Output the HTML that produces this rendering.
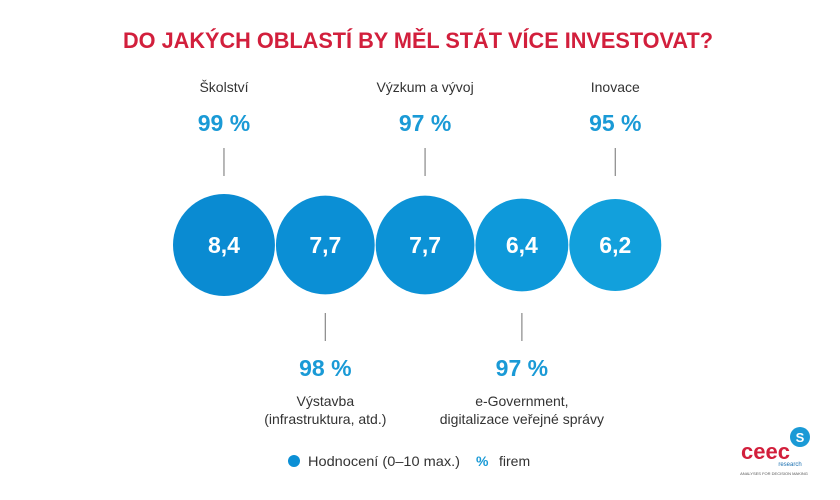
<!DOCTYPE html>
<html><head><meta charset="utf-8"><style>
body{margin:0;width:840px;height:500px;background:#fff;overflow:hidden;font-family:"Liberation Sans",sans-serif;}
svg{display:block}
</style></head><body>
<svg width="840" height="500" viewBox="0 0 840 500">
<text x="418" y="48" text-anchor="middle" font-size="22" font-weight="bold" fill="#d21f3c" textLength="590" lengthAdjust="spacingAndGlyphs">DO JAKÝCH OBLASTÍ BY MĚL STÁT VÍCE INVESTOVAT?</text>
<g id="marks"></g>
<circle cx="294" cy="461" r="6" fill="#0b8fd5"/>
<text x="308" y="466" font-size="14" fill="#333" textLength="152" lengthAdjust="spacingAndGlyphs">Hodnocení (0–10 max.)</text>
<text x="476" y="466" font-size="14" font-weight="bold" fill="#1a9ad6">%</text>
<text x="499" y="466" font-size="14" fill="#333">firem</text>
<g>
<circle cx="800" cy="437" r="10" fill="#1a9ad6"/>
<text x="800" y="442" text-anchor="middle" font-size="13" font-weight="bold" fill="#fff">S</text>
<text x="741" y="459" font-size="22" font-weight="bold" fill="#d21f3c">ceec</text>
<text x="790" y="466" text-anchor="middle" font-size="6" fill="#1a6fb0">research</text>
<text x="774" y="475" text-anchor="middle" font-size="4" fill="#555">ANALYSES FOR DECISION MAKING</text>
</g>
</svg>
<script>
const categories=["Školství","Výstavba|(infrastruktura, atd.)","Výzkum a vývoj","e-Government,|digitalizace veřejné správy","Inovace"];
const ratings=[8.4,7.7,7.7,6.4,6.2];
const percents=[99,98,97,97,95];
const colors=["#0a8bd2","#0b8fd5","#0c92d6","#0e99da","#12a0dc"];
const ns="http://www.w3.org/2000/svg";
const g=document.getElementById("marks");
const cy=245;
const rScale=v=>31.9+v*2.27;
function mk(t,a){const e=document.createElementNS(ns,t);for(const k in a)e.setAttribute(k,a[k]);g.appendChild(e);return e;}
let x=173;
ratings.forEach((v,i)=>{
 const r=rScale(v);const cx=x+r;x=cx+r+1;
 const c=mk("circle",{cx:cx,cy:cy,r:r,fill:colors[i]});
 
 
 const t=mk("text",{x:cx,y:cy+8,"text-anchor":"middle","font-size":23,"font-weight":"bold",fill:"#fff"});
 t.textContent=v.toFixed(1).replace(".",",");
 
 
 const top=i%2===0;
 const ln=mk("line",top?{x1:cx,x2:cx,y1:148,y2:176}:{x1:cx,x2:cx,y1:313,y2:341});
 ln.setAttribute("stroke","#888");ln.setAttribute("stroke-width","1.2");
 
 
 const p=mk("text",{x:cx,y:top?131:376,"text-anchor":"middle","font-size":23,"font-weight":"bold",fill:"#1a9ad6"});
 p.textContent=percents[i]+" %";
 
 
 categories[i].split("|").forEach((s,j)=>{
  const l=mk("text",{x:cx,y:(top?92:406)+j*18,"text-anchor":"middle","font-size":14,fill:"#333"});
  l.textContent=s;
  
  
 });
});
</script>
</body></html>
